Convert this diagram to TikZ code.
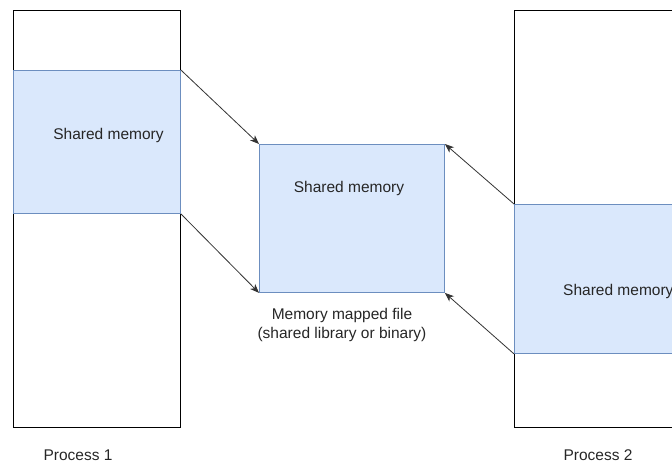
\documentclass[tikz,border=0pt]{standalone}
\usepackage{fontspec}
\setmainfont{Liberation Sans}
\usetikzlibrary{arrows.meta}
\definecolor{shfill}{HTML}{DAE8FC}
\definecolor{shline}{HTML}{6C8EBF}
\definecolor{arr}{HTML}{333333}
\tikzset{
  proc/.style={draw=black, line width=0.9pt, fill=white, inner sep=0pt, anchor=north west},
  shm/.style={draw=shline, line width=0.9pt, fill=shfill, inner sep=0pt, anchor=north west},
  lbl/.style={font=\fontsize{15.5}{19}\selectfont, text=black!85, inner sep=0pt, align=center},
  link/.style={draw=arr, line width=0.8pt, -{Stealth[length=9pt,width=7pt,inset=2.5pt]}}
}
\begin{document}
\begin{tikzpicture}[x=1pt,y=-1pt]
\useasboundingbox (0,0) rectangle (672,463);
\clip (0,0) rectangle (672,463);
% process address spaces
\node[proc, minimum width=167pt, minimum height=417pt] (p1) at (13,10) {};
\node[proc, minimum width=180pt, minimum height=417pt] (p2) at (514,10) {};
% shared regions inside each process
\node[shm, minimum width=167pt, minimum height=143pt] (s1) at (13,70) {};
\node[shm, minimum width=180pt, minimum height=149pt] (s2) at (514,204) {};
% memory mapped file
\node[shm, minimum width=185pt, minimum height=148pt] (mf) at (259,144) {};
% labels
\node[lbl] (t1) at (108.5,135) {Shared memory};
\node[lbl] (t2) at (349,188) {Shared memory};
\node[lbl, anchor=west] (t3) at (563,291) {Shared memory};
\node[lbl] (t4) at (342,325) {Memory mapped file\\(shared library or binary)};
\node[lbl] (t5) at (78,455) {Process 1};
\node[lbl] (t6) at (598,455) {Process 2};
% mappings
\draw[link] (s1.north east) -- (mf.north west);
\draw[link] (s1.south east) -- (mf.south west);
\draw[link] (s2.north west) -- (mf.north east);
\draw[link] (s2.south west) -- (mf.south east);
\end{tikzpicture}
\end{document}
